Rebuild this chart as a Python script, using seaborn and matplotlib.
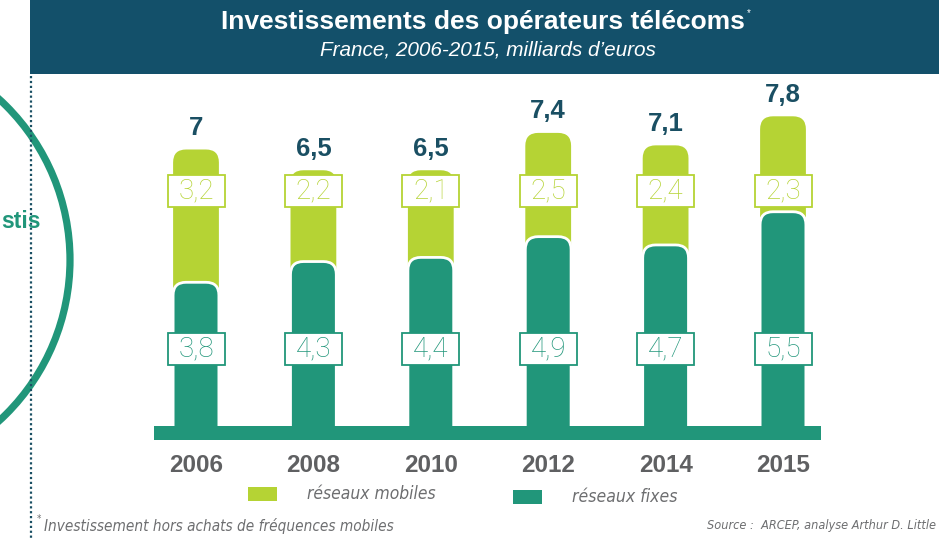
import os
import numpy as np
import matplotlib
matplotlib.use("Agg")
import matplotlib.pyplot as plt
import matplotlib.patches as mpatches
from matplotlib import font_manager as fm
import seaborn as sns

# data
years = ["2006", "2008", "2010", "2012", "2014", "2015"]
fixes = [3.8, 4.3, 4.4, 4.9, 4.7, 5.5]
mobiles = [3.2, 2.2, 2.1, 2.5, 2.4, 2.3]
totals = [7, 6.5, 6.5, 7.4, 7.1, 7.8]

GREEN = "#b5d334"
TEAL = "#21967a"
HEADER = "#13506a"
DARK = "#1a4f63"
GREY = "#5f6062"
LGREY = "#6d6e70"

sns.set_theme(style="white")
plt.rcParams["font.family"] = ["Liberation Sans", "DejaVu Sans"]


def find_font(keys):
    # look for a condensed italic face among installed files
    files = {os.path.basename(f.fname): f.fname for f in fm.fontManager.ttflist}
    for k in keys:
        for name, path in files.items():
            if name.startswith(k):
                return fm.FontProperties(fname=path)
    return fm.FontProperties(family="Liberation Sans", style="italic")


narrow_it = find_font(["LiberationSansNarrow-Italic", "DejaVuSansCondensed-Oblique",
                       "NotoSans-CondensedItalic", "OpenSans_Condensed-Italic"])

W, H = 939, 540
fig = plt.figure(figsize=(W / 100, H / 100), dpi=100)
renderer = fig.canvas.get_renderer()


def fit(t, width_px):
    # scale a text so its drawn width matches the reference
    w = t.get_window_extent(renderer).width
    t.set_fontsize(t.get_fontsize() * width_px / w)


# background layer in pixel coordinates
bg = fig.add_axes([0, 0, 1, 1], zorder=0)
bg.set_xlim(0, W)
bg.set_ylim(H, 0)
bg.axis("off")
bg.add_patch(mpatches.Rectangle((30, 0), W - 30, 74, color=HEADER, lw=0))
bg.plot([31, 31], [76, 540], color=DARK, lw=1.6, ls=(0, (1, 1.2)))
bg.add_patch(mpatches.Circle((-148, 260), 218, facecolor="white", edgecolor=TEAL, lw=5.2))
bg.text(1, 228, "stis", color=TEAL, fontsize=16.5, fontweight="bold", ha="left", va="baseline")

t = fig.text(483 / W, 1 - 22 / H, "Investissements des opérateurs télécoms", color="white",
             fontsize=19, fontweight="bold", ha="center", va="center")
fit(t, 524)
fig.text(749 / W, 1 - 13 / H, "*", color="white", fontsize=7, ha="center", va="center")
t = fig.text(488 / W, 1 - 50 / H, "France, 2006-2015, milliards d\u2019euros", color="white",
             fontsize=15, style="italic", ha="center", va="center")
fit(t, 338)

# legend
bg.add_patch(mpatches.Rectangle((248, 487), 29, 14, color=GREEN, lw=0))
t = bg.text(307, 494, "réseaux mobiles", fontproperties=narrow_it, color=LGREY, fontsize=15, va="center")
fit(t, 129)
bg.add_patch(mpatches.Rectangle((513, 490), 29, 14, color=TEAL, lw=0))
t = bg.text(572, 497, "réseaux fixes", fontproperties=narrow_it, color=LGREY, fontsize=15, va="center")
fit(t, 105)

# footnotes
bg.text(37, 519, "*", fontproperties=narrow_it, color=LGREY, fontsize=7, va="center")
t = bg.text(44, 526, "Investissement hors achats de fréquences mobiles", fontproperties=narrow_it,
            color=LGREY, fontsize=13, va="center")
fit(t, 349)
t = bg.text(936, 526, "Source :  ARCEP, analyse Arthur D. Little", fontproperties=narrow_it,
            color=LGREY, fontsize=12, va="center", ha="right")
fit(t, 228)

# bar chart
px_x, px_y = 117.4, 41.5
ax = fig.add_axes([140 / W, 1 - 440 / H, 700 / W, 360 / H], zorder=1)
ax.patch.set_alpha(0)
sns.barplot(x=years, y=totals, color=GREEN, saturation=1, width=0.39, ax=ax)
sns.barplot(x=years, y=fixes, color=TEAL, saturation=1, width=0.39, ax=ax)
ax.set_xlim(-56 / px_x, -56 / px_x + 700 / px_x)
ax.set_ylim(0, 360 / px_y)

aspect = px_x / px_y
for p in list(ax.patches):
    x, y, w, h = p.get_x(), p.get_y(), p.get_width(), p.get_height()
    fc = p.get_facecolor()
    is_fixed = np.allclose(fc[:3], matplotlib.colors.to_rgb(TEAL))
    p.remove()
    ax.add_patch(mpatches.FancyBboxPatch(
        (x, y), w, h, boxstyle="round,pad=0,rounding_size=0.11", mutation_aspect=aspect,
        facecolor=fc, edgecolor="white" if is_fixed else "none", lw=2 if is_fixed else 0,
        zorder=2 if is_fixed else 1))

# ground bar
ax.add_patch(mpatches.Rectangle((-42 / px_x, 0), 667 / px_x, 14 / px_y, color=TEAL, lw=0, zorder=3))

fmt = lambda v: f"{v:g}".replace(".", ",")
bw, bh = 57 / px_x, 32 / px_y
for i in range(len(years)):
    ax.annotate(fmt(totals[i]), (i, totals[i]), xytext=(0, 7), textcoords="offset points",
                ha="center", va="bottom", fontsize=18.5, fontweight="bold", color=DARK)
    for yc, val, col in [(6.0, mobiles[i], GREEN), (2.2, fixes[i], TEAL)]:
        ax.add_patch(mpatches.Rectangle((i - bw / 2, yc - bh / 2), bw, bh, facecolor="white",
                                        edgecolor=col, lw=1.3, zorder=4))
        ax.text(i, yc, fmt(val), ha="center", va="center", fontsize=20, color=col,
                family=["Roboto", "DejaVu Sans"], fontweight="light", zorder=5)

ax.set_yticks([])
ax.tick_params(axis="x", length=0, pad=10, labelsize=17.5, labelcolor=GREY)
for t in ax.get_xticklabels():
    t.set_fontweight("bold")
ax.set_xlabel("")
ax.set_ylabel("")
sns.despine(ax=ax, left=True, bottom=True)

fig.savefig("out.png", dpi=100)
